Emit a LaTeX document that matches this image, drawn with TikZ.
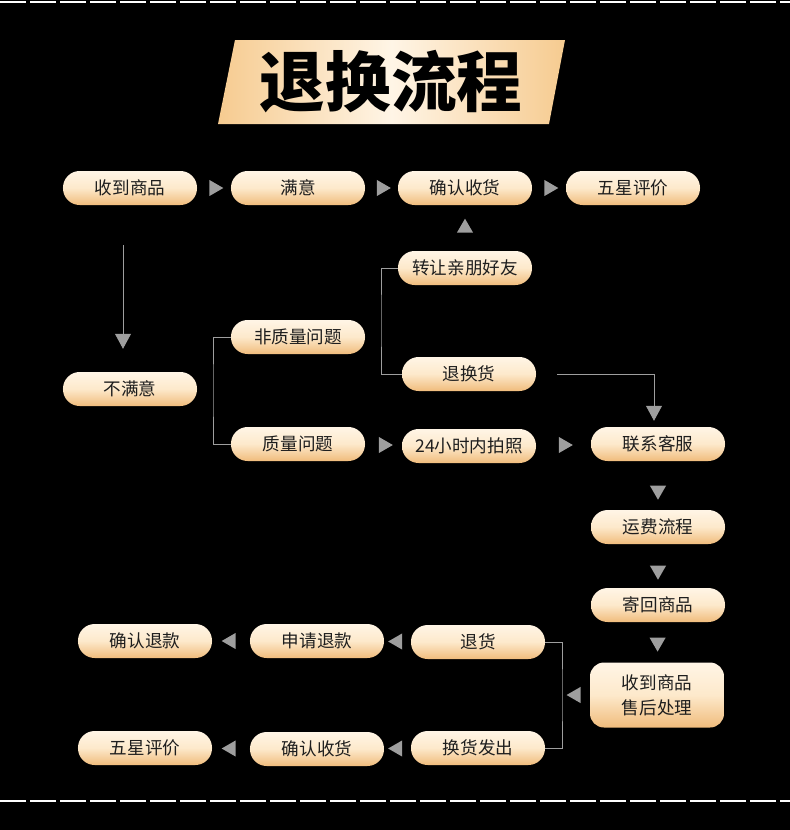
\documentclass[tikz,border=0pt]{standalone}
\usepackage{fontspec}
\setmainfont{Noto Sans CJK SC}
\usetikzlibrary{shapes.geometric,arrows.meta}
\definecolor{pilltop}{HTML}{FFF5E6}
\definecolor{pillmid}{HTML}{FDE9CB}
\definecolor{pillbot}{HTML}{F0BC7C}
\definecolor{titleedge}{HTML}{F6CB90}
\definecolor{tgray}{HTML}{9E9E9E}
\definecolor{ink}{HTML}{1E1E1E}

\begin{document}
\begin{tikzpicture}[x=0.03cm, y=-0.03cm,
  pill/.style={rounded corners=0.5cm, minimum width=4.02cm, minimum height=1.02cm, inner sep=0pt, top color=pilltop, bottom color=pillbot, middle color=pillmid, text=ink, font=\fontsize{15}{18}\selectfont},
  pillbig/.style={pill, rounded corners=0.42cm, minimum height=1.95cm, align=center, font=\fontsize{15}{21}\selectfont},
  tri/.style={isosceles triangle, isosceles triangle apex angle=60, fill=tgray, inner sep=0pt, minimum height=0.42cm},
  link/.style={draw=tgray, line width=0.7pt},
  flow/.style={link, -{Triangle[width=0.48cm, length=0.45cm]}}
]
\fill[black] (0,0) rectangle (790,830);
\useasboundingbox (0,0) rectangle (790,830);
% dashed edges
\draw[white, line width=0.045cm, dash pattern=on 0.78cm off 0.12cm] (0,2) -- (790,2);
\draw[white, line width=0.045cm, dash pattern=on 0.78cm off 0.12cm] (0,801) -- (790,801);

% title
\fill[left color=titleedge, right color=titleedge, middle color=pilltop] (235,40) -- (565,40) -- (549,124) -- (218,124) -- cycle;
\node[text=black, font=\fontsize{56}{60}\selectfont\bfseries] (title) at (391,82) {退换流程};

% top row
\node[pill] (recv) at (130,188) {收到商品};
\node[pill] (sat) at (298,188) {满意};
\node[pill] (conf) at (465,188) {确认收货};
\node[pill] (star) at (633,188) {五星评价};
\node[pill] (gift) at (465,268) {转让亲朋好友};
\node[pill] (nonq) at (298,337) {非质量问题};
\node[pill] (exch) at (469,374) {退换货};
\node[pill] (unsat) at (130,389) {不满意};
\node[pill] (qual) at (298,444) {质量问题};
\node[pill] (photo) at (469,446) {24小时内拍照};
\node[pill] (contact) at (658,444) {联系客服};
\node[pill] (fee) at (658,527) {运费流程};
\node[pill] (back) at (658,605) {寄回商品};
\node[pillbig] (after) at (657,695) {收到商品\\售后处理};

% bottom rows
\node[pill] (retg) at (478,642) {退货};
\node[pill] (apply) at (317,641) {申请退款};
\node[pill] (refund) at (145,641) {确认退款};
\node[pill] (swap) at (478,748) {换货发出};
\node[pill] (conf2) at (317,749) {确认收货};
\node[pill] (star2) at (145,748) {五星评价};

\coordinate (split) at (213,390);
\coordinate (split2) at (381,320);
\coordinate (fork) at (562,695);

% triangles
\path (recv) -- node[tri] {} (sat);
\path (sat) -- node[tri] {} (conf);
\path (conf) -- node[tri] {} (star);
\path (gift) -- node[tri, shape border rotate=90] {} (conf);
\path (qual) -- node[tri] {} (photo);
\path (photo) -- node[tri] {} (contact);
\path (contact) -- node[tri, shape border rotate=-90, pos=0.6] {} (fee);
\path (fee) -- node[tri, shape border rotate=-90, pos=0.6] {} (back);
\path (back) -- node[tri, shape border rotate=-90] {} (after);
\path (after) -- node[tri, shape border rotate=180] {} (fork);
\path (retg) -- node[tri, shape border rotate=180] {} (apply);
\path (apply) -- node[tri, shape border rotate=180] {} (refund);
\path (swap) -- node[tri, shape border rotate=180] {} (conf2);
\path (conf2) -- node[tri, shape border rotate=180] {} (star2);

% lines
\draw[flow, shorten <=1.2cm, shorten >=0.69cm] ([xshift=-0.21cm]recv.south) -- ([xshift=-0.21cm]unsat.north);
\draw[link] (nonq.west) -| (split) |- (qual.west);
\draw[link] (gift.west) -| (split2) |- (exch.west);
\draw[flow, shorten <=0.63cm, shorten >=0.18cm] (exch.east) -| ([xshift=-0.12cm]contact.north);
\draw[link] (retg.east) -| (fork) |- (swap.east);
\end{tikzpicture}
\end{document}
